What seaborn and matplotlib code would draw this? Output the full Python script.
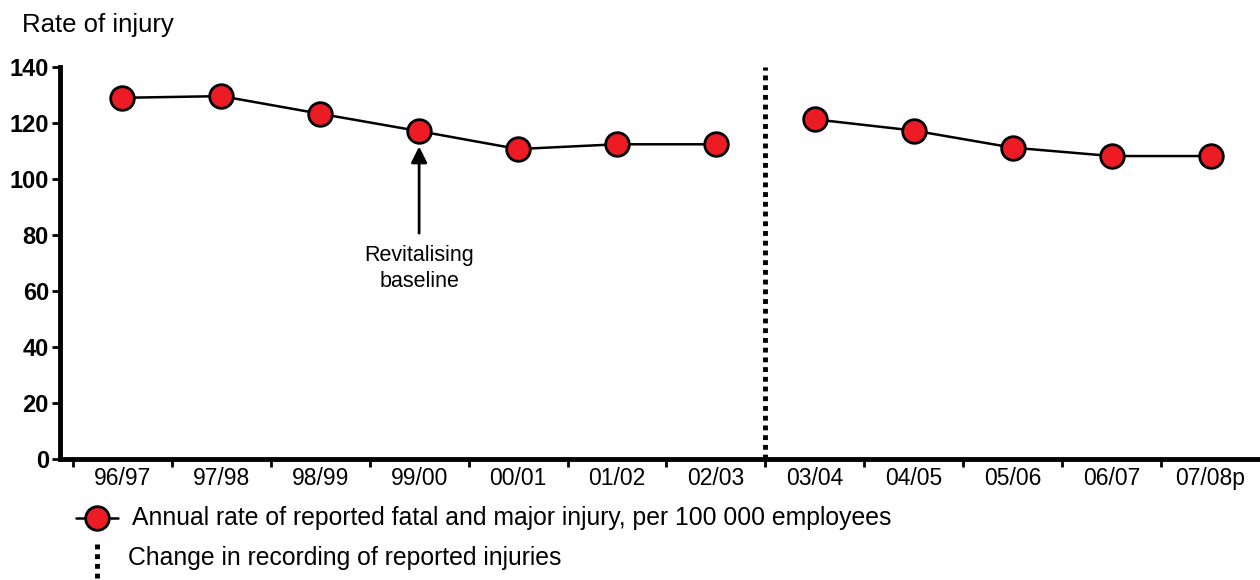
import numpy as np
import pandas as pd
import seaborn as sns
import matplotlib.pyplot as plt
from matplotlib.lines import Line2D

# data
seasons = ["96/97", "97/98", "98/99", "99/00", "00/01", "01/02", "02/03",
           "03/04", "04/05", "05/06", "06/07", "07/08p"]
rates = [129.0, 129.6, 123.3, 117.1, 110.7, 112.4, 112.4,
         121.3, 117.3, 111.2, 108.2, 108.2]
segments = [1] * 7 + [2] * 5
last_old_season = "02/03"
baseline_season = "99/00"
y_ticks = [0, 20, 40, 60, 80, 100, 120, 140]

series_label = "Annual rate of reported fatal and major injury, per 100 000 employees"
change_label = "Change in recording of reported injuries"

RED = "#ED1C24"

sns.set_style("ticks")
plt.rcParams['font.family'] = ['Liberation Sans', 'DejaVu Sans']
plt.rcParams.update({"text.color": "black", "axes.edgecolor": "black",
                     "xtick.color": "black", "ytick.color": "black",
                     "axes.labelcolor": "black"})

df = pd.DataFrame({"pos": np.arange(len(seasons)), "season": seasons,
                   "rate": rates, "segment": segments})

fig = plt.figure(figsize=(12.6, 5.8), dpi=100)
ax = fig.add_axes([60 / 1260, 1 - 459 / 580, 1 - 60 / 1260, (459 - 67) / 580])

for seg, sub in df.groupby("segment"):
    sns.lineplot(data=sub, x="pos", y="rate", ax=ax, color="black", linewidth=1.8,
                 marker="o", markersize=17, markerfacecolor=RED,
                 markeredgecolor="black", markeredgewidth=2, zorder=3)

# change in recording
brk = seasons.index(last_old_season) + 0.5
ax.axvline(brk, color="black", linestyle=(0, (1, 1)), linewidth=3.5, zorder=2)

# annotation
bx = seasons.index(baseline_season)
ax.annotate("Revitalising\nbaseline", xy=(bx, rates[bx] - 5.5), xytext=(bx, 68),
            ha="center", va="center", fontsize=15.5, linespacing=1.35,
            arrowprops=dict(arrowstyle="-|>", color="black", lw=2,
                            mutation_scale=24, shrinkA=6, shrinkB=0))

ax.set_xlim(-0.63, len(seasons) - 0.5)
ax.set_ylim(0, 140)
ax.set_yticks(y_ticks)
ax.set_yticklabels([str(v) for v in y_ticks], fontsize=17, fontweight="bold")
ax.set_xticks(df["pos"])
ax.set_xticklabels(seasons, fontsize=16.5)
ax.set_xticks(np.arange(len(seasons)) - 0.5, minor=True)
ax.tick_params(axis="x", which="major", length=0, pad=6)
ax.tick_params(axis="x", which="minor", length=6, width=2, direction="out")
ax.tick_params(axis="y", length=6, width=2, pad=2)
ax.set_xlabel("")
ax.set_ylabel("")
for s in ["top", "right"]:
    ax.spines[s].set_visible(False)
for s in ["left", "bottom"]:
    ax.spines[s].set_linewidth(3.5)

fig.text(22 / 1260, 1 - 25 / 580, "Rate of injury", fontsize=18.5, va="center", ha="left")

# legend drawn by hand
def fx(px):
    return px / 1260

def fy(py):
    return 1 - py / 580

fig.add_artist(Line2D([fx(76), fx(118)], [fy(518), fy(518)], color="black", lw=1.8,
                      transform=fig.transFigure))
fig.add_artist(Line2D([fx(97)], [fy(518)], marker="o", markersize=17,
                      markerfacecolor=RED, markeredgecolor="black", markeredgewidth=2,
                      transform=fig.transFigure))
fig.text(fx(132), fy(518), series_label, fontsize=17.8, va="center", ha="left")
fig.add_artist(Line2D([fx(97), fx(97)], [fy(544), fy(580)], color="black",
                      linestyle=(0, (1, 1)), lw=3.5, transform=fig.transFigure))
fig.text(fx(128), fy(558), change_label, fontsize=17.8, va="center", ha="left")

fig.savefig("out.png", dpi=100)
